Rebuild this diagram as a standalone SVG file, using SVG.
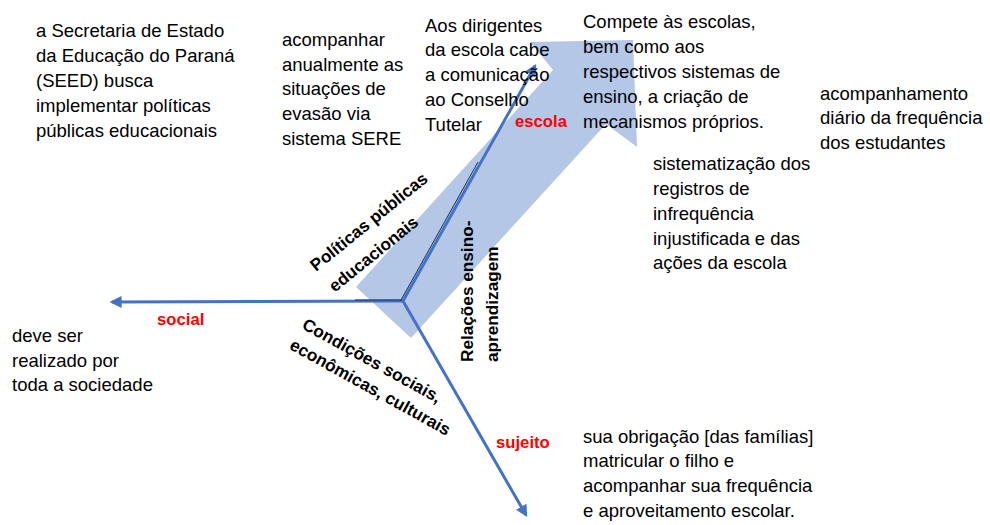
<svg xmlns="http://www.w3.org/2000/svg" width="990" height="525" viewBox="0 0 990 525">
<defs>
<style>
.t{font-family:"Liberation Sans",Arial,sans-serif;font-size:18.5px;fill:#000}
.b{font-family:"Liberation Sans",Arial,sans-serif;font-size:17.2px;font-weight:bold;fill:#000}
.r{font-family:"Liberation Sans",Arial,sans-serif;font-size:16.7px;font-weight:bold;fill:#FF0000}
.ln{stroke:#4472C4;stroke-width:3;fill:none;marker-end:url(#ah)}
</style>
<marker id="ah" viewBox="0 0 10 10" refX="8" refY="5" markerWidth="4" markerHeight="4" orient="auto" markerUnits="strokeWidth">
<path d="M0,0 L10,5 L0,10 Z" fill="#4472C4"/>
</marker>
</defs>
<rect width="990" height="525" fill="#fff"/>
<g id="big-arrow">
<polygon points="356,287 553,70 530,42 633,40 637,147 606,124 411,338" fill="#B4C7E7"/>
</g>
<g id="connectors">
<line class="ln" x1="403" y1="301" x2="112" y2="302"/>
<line class="ln" x1="403" y1="301" x2="535" y2="66"/>
<line class="ln" x1="403" y1="301" x2="526" y2="515"/>
<line x1="355" y1="300" x2="402" y2="300" stroke="#1F2F50" stroke-width="1"/>
<line x1="401" y1="300" x2="478" y2="162" stroke="#1F2F50" stroke-width="1"/>
</g>
<g id="axis-labels">
<g transform="translate(316,272) rotate(-39)"><text class="b" x="0" y="0">Políticas públicas</text><text class="b" x="1.5" y="28">educacionais</text></g>
<g transform="translate(473,362) rotate(-90)"><text class="b" x="0" y="0">Relações ensino-</text><text class="b" x="0" y="25">aprendizagem</text></g>
<g transform="translate(301,328) rotate(29)"><text class="b" x="0" y="0">Condições sociais,</text><text class="b" x="-1" y="24">econômicas, culturais</text></g>
</g>
<g id="escola"><text class="r" x="515" y="127">escola</text></g>
<g id="social"><text class="r" x="157" y="325">social</text></g>
<g id="sujeito"><text class="r" x="496" y="448">sujeito</text></g>
<g id="note-seed"><text class="t">
<tspan x="36" y="37">a Secretaria de Estado</tspan>
<tspan x="36" y="62">da Educação do Paraná</tspan>
<tspan x="36" y="87">(SEED) busca</tspan>
<tspan x="36" y="112">implementar políticas</tspan>
<tspan x="36" y="137">públicas educacionais</tspan>
</text></g>
<g id="note-sere"><text class="t">
<tspan x="282" y="46">acompanhar</tspan>
<tspan x="282" y="71">anualmente as</tspan>
<tspan x="282" y="95">situações de</tspan>
<tspan x="282" y="120">evasão via</tspan>
<tspan x="282" y="145">sistema SERE</tspan>
</text></g>
<g id="note-dirigentes"><text class="t">
<tspan x="425" y="32">Aos dirigentes</tspan>
<tspan x="425" y="56">da escola cabe</tspan>
<tspan x="425" y="81">a comunicação</tspan>
<tspan x="425" y="106">ao Conselho</tspan>
<tspan x="425" y="131">Tutelar</tspan>
</text></g>
<g id="note-compete"><text class="t">
<tspan x="583" y="28">Compete às escolas,</tspan>
<tspan x="583" y="53">bem como aos</tspan>
<tspan x="583" y="78">respectivos sistemas de</tspan>
<tspan x="583" y="103">ensino, a criação de</tspan>
<tspan x="583" y="128">mecanismos próprios.</tspan>
</text></g>
<g id="note-acompanhamento"><text class="t">
<tspan x="820" y="100">acompanhamento</tspan>
<tspan x="820" y="124">diário da frequência</tspan>
<tspan x="820" y="149">dos estudantes</tspan>
</text></g>
<g id="note-sistematizacao"><text class="t">
<tspan x="653" y="170">sistematização dos</tspan>
<tspan x="653" y="195">registros de</tspan>
<tspan x="653" y="220">infrequência</tspan>
<tspan x="653" y="245">injustificada e das</tspan>
<tspan x="653" y="269">ações da escola</tspan>
</text></g>
<g id="note-sociedade"><text class="t">
<tspan x="12" y="342">deve ser</tspan>
<tspan x="12" y="367">realizado por</tspan>
<tspan x="12" y="391">toda a sociedade</tspan>
</text></g>
<g id="note-familias"><text class="t">
<tspan x="583" y="443">sua obrigação [das famílias]</tspan>
<tspan x="583" y="467">matricular o filho e</tspan>
<tspan x="583" y="492">acompanhar sua frequência</tspan>
<tspan x="583" y="517">e aproveitamento escolar.</tspan>
</text></g>
</svg>
